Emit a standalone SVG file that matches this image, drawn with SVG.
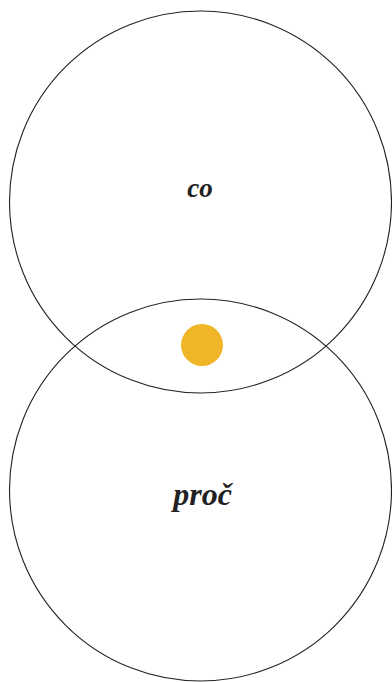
<svg xmlns="http://www.w3.org/2000/svg" width="392" height="682" viewBox="0 0 392 682">
<style>
.ring{fill:none;stroke:#222;stroke-width:1.1}
.lbl{font-family:"Liberation Serif","DejaVu Serif",serif;font-style:italic;font-weight:bold;fill:#222;text-anchor:middle}
</style>
<rect width="392" height="682" fill="#fff"/>
<g id="co">
<circle class="ring" cx="200.5" cy="202" r="191"/>
<text class="lbl" x="200" y="197" font-size="27">co</text>
</g>
<g id="proc">
<circle class="ring" cx="200.5" cy="490" r="191"/>
<text class="lbl" x="202.5" y="505" font-size="32">proč</text>
</g>
<g id="dot">
<circle cx="202" cy="345" r="21" fill="#F0B627"/>
</g>
</svg>
